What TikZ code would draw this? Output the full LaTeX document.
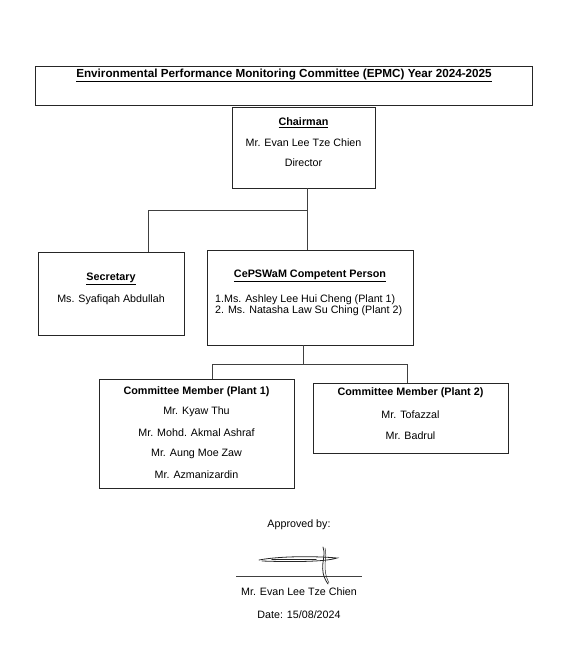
\documentclass[tikz,border=0pt]{standalone}
\usepackage{fontspec}
\setmainfont{Liberation Sans}
\usetikzlibrary{positioning,calc}

\begin{document}
\begin{tikzpicture}[x=1pt,y=-1pt,
            box/.style={draw=black!85,line width=0.9pt,inner sep=0pt},
            link/.style={draw=black!75,line width=0.9pt},
            txt/.style={inner sep=0pt,font=\fontsize{10.7}{12}\selectfont},
            head/.style={inner sep=0pt,font=\fontsize{10.8}{12}\bfseries},
            sign/.style={black!85,line width=0.8pt,line cap=round}]
 \useasboundingbox (0,0) rectangle (572,648);

 % title
 \node[box,minimum width=497pt,minimum height=39pt] (title) at (283.5,85.5) {};
 \node[head,font=\fontsize{11.7}{13}\bfseries] (titletxt) at (284,75) {\underline{Environmental Performance Monitoring Committee (EPMC) Year 2024-2025}};

 % chairman
 \node[box,minimum width=143pt,minimum height=81pt] (chair) at (303.5,147.5) {};
 \node[head] (chairt) at (303.5,123) {\underline{Chairman}};
 \node[txt] (chairn) at (303.5,143) {Mr. Evan Lee Tze Chien};
 \node[txt] (chaird) at (303.5,163) {Director};

 % secretary
 \node[box,minimum width=146pt,minimum height=83pt] (secr) at (111,293.5) {};
 \node[head] (secrt) at (111,279) {\underline{Secretary}};
 \node[txt] (secrn) at (111,300) {Ms. Syafiqah Abdullah};

 % competent person
 \node[box,minimum width=206pt,minimum height=95pt] (cp) at (310,297.5) {};
 \node[head] (cpt) at (310,276) {\underline{CePSWaM Competent Person}};
 \node[txt,anchor=west] (cp1) at (215,300) {1.Ms. Ashley Lee Hui Cheng (Plant 1)};
 \node[txt,anchor=west] (cp2) at (215,311) {2. Ms. Natasha Law Su Ching (Plant 2)};

 % committee members
 \node[box,minimum width=195pt,minimum height=109pt] (plant1) at (196.5,433.5) {};
 \node[head] (p1t) at (196.5,392) {Committee Member (Plant 1)};
 \node[txt] (p1a) at (196.5,412) {Mr. Kyaw Thu};
 \node[txt] (p1b) at (196.5,433) {Mr. Mohd. Akmal Ashraf};
 \node[txt] (p1c) at (196.5,454) {Mr. Aung Moe Zaw};
 \node[txt] (p1d) at (196.5,475) {Mr. Azmanizardin};

 \node[box,minimum width=195pt,minimum height=70pt] (plant2) at (410.5,418) {};
 \node[head] (p2t) at (410.5,393) {Committee Member (Plant 2)};
 \node[txt] (p2a) at (410.5,415) {Mr. Tofazzal};
 \node[txt] (p2b) at (410.5,436) {Mr. Badrul};

 % connectors
 \coordinate (jl) at (148,210);
 \coordinate (jr) at (307,210);
 \draw[link] (jr |- chair.south) -- (jr |- cp.north);
 \draw[link] (jr) -- (jl) -- (jl |- secr.north);
 \coordinate (jm) at (303,364);
 \coordinate (ja) at (212,364);
 \coordinate (jb) at (407,364);
 \draw[link] (jm |- cp.south) -- (jm);
 \draw[link] (ja |- plant1.north) -- (ja) -- (jb) -- (jb |- plant2.north);

 % approval
 \node[txt] (appr) at (299,525) {Approved by:};
 \coordinate (sl) at (236,576);
 \coordinate (sr) at (362,576);
 \draw[black!75,line width=0.7pt] (sl) -- (sr);
 \draw[sign] (259,560) .. controls (280,556) and (315,556) .. (337,558)
   .. controls (325,562) and (290,562) .. (262,561);
 \draw[sign,line width=1.4pt] (272,559.5) -- (316,559.5);
 \draw[sign] (323,547) .. controls (327,558) and (317,568) .. (328,584);
 \draw[sign,line width=0.5pt] (325,548) .. controls (328,558) and (321,567) .. (329,583);
 \node[txt] (apprn) at (299,592) {Mr. Evan Lee Tze Chien};
 \node[txt] (apprd) at (299,615) {Date: 15/08/2024};
\end{tikzpicture}
\end{document}
